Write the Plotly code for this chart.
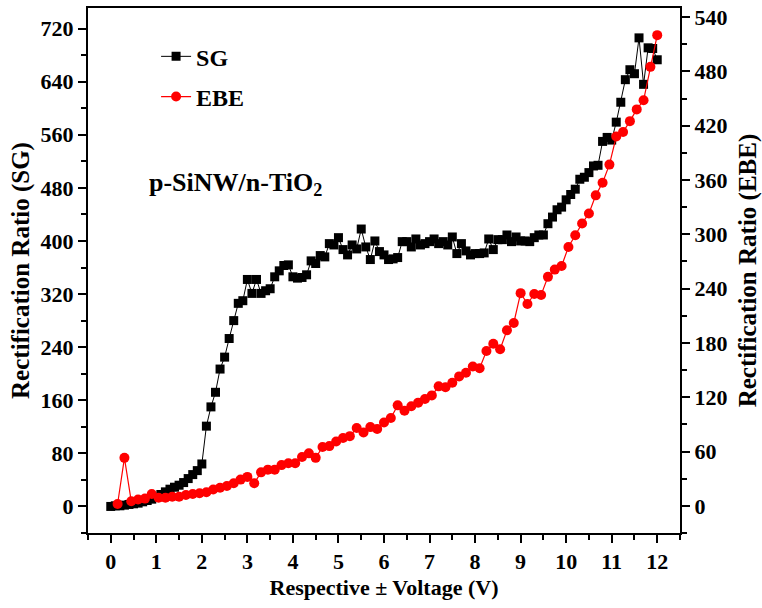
import plotly.graph_objects as go

# ---- data ----
sg_voltage = [round(0.1 * i, 1) for i in range(121)]
sg_ratio = [
    0, 1, 1, 2, 3, 4, 5, 7, 9, 11,
    14, 18, 22, 26, 29, 32, 36, 42, 48, 54,
    64, 121, 150, 172, 207, 225, 253, 280, 306, 310,
    342, 321, 342, 321, 325, 328, 346, 355, 363, 364,
    346, 344, 345, 349, 370, 366, 378, 376, 396, 394,
    405, 387, 379, 394, 388, 418, 391, 372, 400, 384,
    379, 372, 373, 375, 399, 399, 391, 403, 394, 396,
    399, 403, 396, 399, 394, 406, 381, 396, 385, 379,
    381, 381, 382, 403, 387, 402, 402, 409, 399, 406,
    400, 400, 399, 405, 409, 409, 426, 436, 447, 451,
    462, 470, 478, 493, 496, 503, 513, 514, 550, 556,
    552, 579, 609, 643, 658, 652, 706, 636, 691, 690,
    673,
]

ebe_voltage = [round(0.15 * k, 2) for k in range(1, 81)]
ebe_ratio = [
    2, 53, 5, 7, 8, 13, 9, 9, 10, 10,
    12, 13, 14, 15, 18, 20, 22, 25, 29, 32,
    25, 37, 40, 40, 45, 47, 47, 54, 58, 53,
    65, 66, 71, 75, 77, 86, 81, 87, 85, 92,
    97, 111, 105, 110, 114, 118, 122, 132, 131, 136,
    143, 147, 154, 152, 171, 179, 173, 194, 202, 235,
    223, 234, 233, 253, 261, 265, 286, 299, 312, 323,
    343, 357, 377, 408, 413, 425, 438, 448, 485, 520,
]

x_ticks = list(range(0, 13))
left_ticks = list(range(0, 721, 80))
right_ticks = list(range(0, 541, 60))


def bold_labels(vals):
    return ["<b>%d</b>" % v for v in vals]


FONT = "Liberation Serif"

fig = go.Figure()
fig.add_trace(go.Scatter(
    x=sg_voltage, y=sg_ratio, name="SG", mode="lines+markers",
    line=dict(color="black", width=1),
    marker=dict(symbol="square", size=9, color="black"),
    legendgroup="sg", yaxis="y",
))
fig.add_trace(go.Scatter(
    x=ebe_voltage, y=ebe_ratio, name="EBE", mode="lines+markers",
    line=dict(color="#ff0000", width=1.2),
    marker=dict(symbol="circle", size=10, color="#ff0000"),
    legendgroup="ebe", yaxis="y2",
))

axis_font = dict(family=FONT, size=22, color="black")
title_font_x = dict(family=FONT, size=22, color="black", weight="bold")
title_font_y = dict(family=FONT, size=25, color="black", weight="bold")

fig.update_layout(
    width=762, height=608,
    margin=dict(l=88, r=71, t=5, b=75),
    paper_bgcolor="white", plot_bgcolor="white",
    font=dict(family=FONT, color="black"),
    showlegend=True,
    legend=dict(
        x=0.115, y=0.95, xanchor="left", yanchor="top",
        font=dict(family=FONT, size=24, color="black", weight="bold"),
        bgcolor="rgba(0,0,0,0)", tracegroupgap=6,
        traceorder="grouped", itemwidth=30,
    ),
    xaxis=dict(
        range=[-0.5, 12.5], tickmode="array", tickvals=x_ticks,
        ticktext=bold_labels(x_ticks),
        ticks="outside", ticklen=8, tickwidth=2, tickcolor="black",
        minor=dict(dtick=0.5, tick0=0, ticks="outside", ticklen=5, tickwidth=2, tickcolor="black"),
        showline=True, linewidth=2, linecolor="black", mirror=True,
        showgrid=False, zeroline=False,
        tickfont=axis_font,
        title=dict(text="Respective ± Voltage (V)", font=title_font_x, standoff=6),
    ),
    yaxis=dict(
        range=[-40, 751], tickmode="array", tickvals=left_ticks,
        ticktext=bold_labels(left_ticks),
        ticks="outside", ticklen=8, tickwidth=2, tickcolor="black",
        minor=dict(dtick=40, tick0=0, ticks="outside", ticklen=5, tickwidth=2, tickcolor="black"),
        showline=True, linewidth=2, linecolor="black", mirror=False,
        showgrid=False, zeroline=False,
        tickfont=axis_font,
        title=dict(text="Rectification Ratio (SG)", font=title_font_y, standoff=4),
    ),
    yaxis2=dict(
        range=[-30, 550], tickmode="array", tickvals=right_ticks,
        ticktext=bold_labels(right_ticks),
        overlaying="y", side="right",
        ticks="outside", ticklen=8, tickwidth=2, tickcolor="black",
        minor=dict(dtick=30, tick0=0, ticks="outside", ticklen=5, tickwidth=2, tickcolor="black"),
        showline=True, linewidth=2, linecolor="black",
        showgrid=False, zeroline=False,
        tickfont=axis_font,
        title=dict(text="Rectification Ratio (EBE)", font=title_font_y, standoff=12),
    ),
    annotations=[dict(
        text="p-SiNW/n-TiO<sub>2</sub>", x=0.1, y=0.665,
        xref="paper", yref="paper", xanchor="left", yanchor="middle",
        showarrow=False, font=dict(family=FONT, size=26, color="black", weight="bold"),
    )],
)

fig.write_html("out.html")
